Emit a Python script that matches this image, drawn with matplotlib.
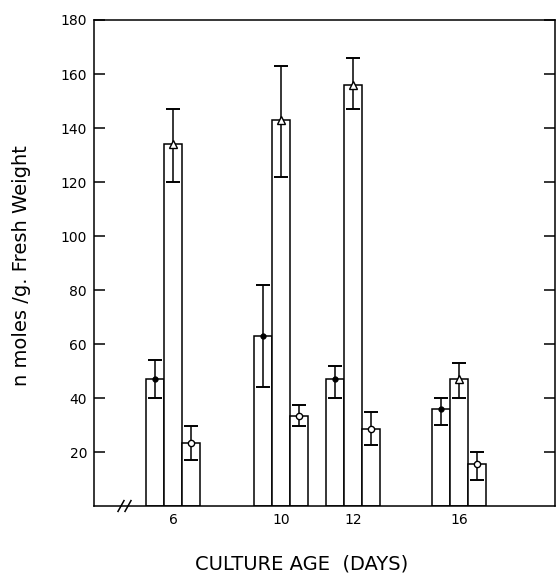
import numpy as np
import matplotlib.pyplot as plt

# culture ages (days) and the three measured series
ages = ['6', '10', '12', '16']
dot_vals = [47, 63, 47, 36]
dot_err_lo = [7, 19, 7, 6]
dot_err_hi = [7, 19, 5, 4]
tri_vals = [134, 143, 156, 47]
tri_err_lo = [14, 21, 9, 7]
tri_err_hi = [13, 20, 10, 6]
circ_vals = [23.5, 33.5, 28.5, 15.5]
circ_err_lo = [6.5, 4, 6, 6]
circ_err_hi = [6, 4, 6.5, 4.5]

# layout: group centres along the (non-linear) age axis, in pixel-like units
GROUP_X = np.array([173, 281, 353, 459])
BAR_W = 18
LW = 1.1

fig = plt.figure(figsize=(5.56, 5.74), dpi=100)
ax = fig.add_axes([94 / 556, 1 - 506 / 574, (555 - 94) / 556, (506 - 20) / 574])

series = [
    (dot_vals, dot_err_lo, dot_err_hi, dict(marker='o', ms=3.5, mfc='black', mec='black')),
    (tri_vals, tri_err_lo, tri_err_hi, dict(marker='^', ms=5.5, mfc='white', mec='black', mew=1.0)),
    (circ_vals, circ_err_lo, circ_err_hi, dict(marker='o', ms=4.5, mfc='white', mec='black', mew=1.0)),
]
offsets = [-BAR_W, 0, BAR_W]

for (vals, lo, hi, mk), off in zip(series, offsets):
    x = GROUP_X + off
    ax.bar(x, vals, width=BAR_W, color='white', edgecolor='black', linewidth=LW, zorder=2)
    ax.errorbar(x, vals, yerr=[lo, hi], fmt='none', ecolor='black', elinewidth=LW,
                capsize=5, capthick=1.4, zorder=3)
    ax.plot(x, vals, linestyle='none', zorder=4, **mk)

ax.set_xlim(94, 555)
ax.set_ylim(0, 180)
ax.set_yticks(np.arange(20, 181, 20))
ax.set_xticks(GROUP_X)
ax.set_xticklabels(ages)

for s in ax.spines.values():
    s.set_linewidth(LW)

ax.tick_params(axis='y', direction='in', length=8, width=LW, right=True, labelsize=10, pad=5)
ax.tick_params(axis='x', direction='in', length=8, width=LW, labelsize=10, pad=5)

# axis break mark on the bottom axis
for bx in (118, 125):
    ax.plot([bx, bx + 6], [-2, 2], color='black', lw=LW, clip_on=False, zorder=5)

fig.text(22 / 556, 1 - 266 / 574, 'n moles /g. Fresh Weight', fontsize=14,
         rotation=90, ha='center', va='center')
fig.text(302 / 556, 1 - 564 / 574, 'CULTURE AGE  (DAYS)', fontsize=14,
         ha='center', va='center')

plt.savefig('out.png', dpi=100)
